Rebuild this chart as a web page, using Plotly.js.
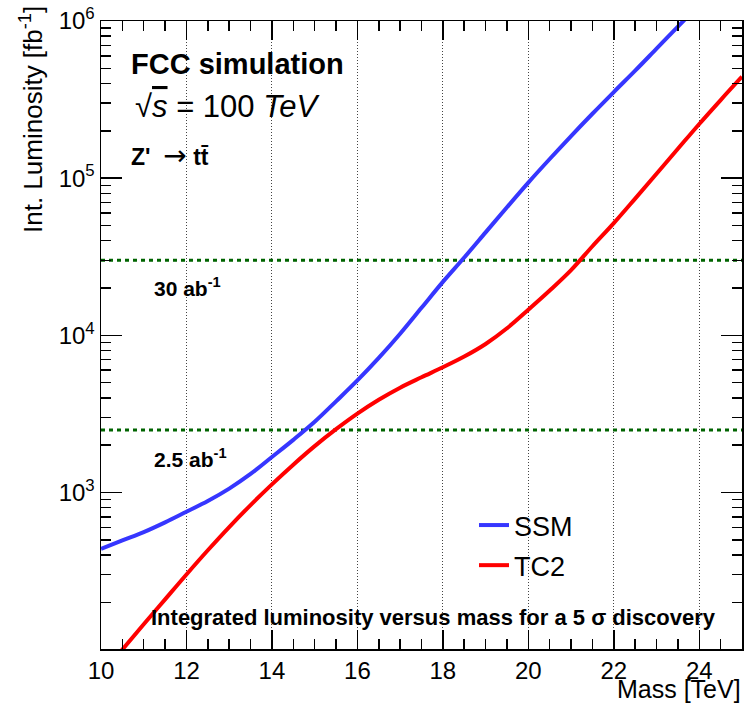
<!DOCTYPE html>
<html>
<head>
<meta charset="utf-8">
<script src="https://cdn.plot.ly/plotly-3.0.1.min.js"></script>
<style>
  html, body { margin: 0; padding: 0; background: #ffffff; }
  #chart { width: 747px; height: 704px; }
</style>
</head>
<body>
<div id="chart"></div>
<script>
// ---- data ----
const massSSM = [10, 10.5, 11, 11.5, 12, 12.5, 13, 13.5, 14, 14.5, 15, 15.5, 16, 16.5, 17, 17.5, 18, 18.5, 19, 19.5, 20, 20.5, 21, 21.5, 22, 22.5, 23, 23.5, 23.7];
const lumiSSM = [438, 496, 560, 646, 755, 883, 1059, 1312, 1683, 2163, 2818, 3802, 5164, 7178, 10230, 14960, 21880, 31260, 45190, 65310, 93760, 132400, 185400, 257000, 353200, 483100, 666800, 920500, 1047000];

const massTC2 = [10.4, 11, 11.5, 12, 12.5, 13, 13.5, 14, 14.5, 15, 15.5, 16, 16.5, 17, 17.5, 18, 18.5, 19, 19.5, 20, 20.5, 21, 21.5, 22, 22.5, 23, 23.5, 24, 24.5, 25];
const lumiTC2 = [93, 145, 209, 301, 429, 603, 832, 1127, 1503, 1972, 2529, 3177, 3890, 4645, 5408, 6266, 7328, 8810, 11090, 14560, 19280, 26000, 36900, 51760, 74130, 106700, 153800, 221300, 314100, 442600];

const seriesNames = ["SSM", "TC2"];
const referenceLumi = [30000, 2500];           // 30 ab^-1 and 2.5 ab^-1 in fb^-1
const referenceLabels = ["30 ab<sup>-1</sup>", "2.5 ab<sup>-1</sup>"];
const massRange = [10, 25];

const xTickVals = [10, 12, 14, 16, 18, 20, 22, 24];
const yTickVals = [1e3, 1e4, 1e5, 1e6];
const yTickText = ["10<sup>3</sup>", "10<sup>4</sup>", "10<sup>5</sup>", "10<sup>6</sup>"];
const yMinorVals = [];
[100, 1000, 10000, 100000].forEach(d => { for (let k = 2; k <= 9; k++) yMinorVals.push(k * d); });

// ---- geometry helpers (pixel -> paper) ----
const L = 101, T = 21, W = 641, H = 628;
const px = x => (x - L) / W;
const py = y => 1 - (y - T) / H;

const FONT = "Liberation Sans, Arial, Helvetica, sans-serif";

const traces = [];
referenceLumi.forEach(v => {
  traces.push({
    x: massRange, y: [v, v], mode: "lines", showlegend: false, hoverinfo: "skip",
    line: { color: "rgb(0,100,0)", width: 3, dash: "4px,4px" }
  });
});
traces.push({
  x: massSSM, y: lumiSSM, name: seriesNames[0], mode: "lines", legendgroup: "a",
  line: { color: "#3636ff", width: 4, shape: "spline", smoothing: 1 }
});
traces.push({
  x: massTC2, y: lumiTC2, name: seriesNames[1], mode: "lines", legendgroup: "b",
  line: { color: "#ff0000", width: 4, shape: "spline", smoothing: 1 }
});

const annotations = [
  { text: "<b>FCC simulation</b>", x: px(129), y: py(64.5), size: 29 },
  { text: "√<span style='text-decoration:overline'><i>s</i></span> = 100 <i>TeV</i>", x: px(133), y: py(107), size: 31 },
  { text: "<b>Z'</b>\u00a0\u00a0<span style='font-family:DejaVu Sans;font-weight:normal;font-size:28px'>→</span>\u00a0<b>tt̄</b>", x: px(129), y: py(155), size: 23 },
  { text: "<b>" + referenceLabels[0] + "</b>", x: px(152), y: py(287.5), size: 21 },
  { text: "<b>" + referenceLabels[1] + "</b>", x: px(152), y: py(457.5), size: 21 },
  { text: "<b>Integrated luminosity versus mass for a 5 σ discovery</b>", x: px(149), y: py(617), size: 22 }
].map(a => ({
  text: a.text, x: a.x, y: a.y, xref: "paper", yref: "paper",
  xanchor: "left", yanchor: "middle", showarrow: false,
  font: { family: FONT, size: a.size, color: "#000" }
}));

annotations.push({
  text: "Int. Luminosity [fb<sup>-1</sup>]", x: px(31), y: py(120), xref: "paper", yref: "paper",
  xanchor: "center", yanchor: "middle", textangle: -90, showarrow: false,
  font: { family: FONT, size: 26, color: "#000" }
});
annotations.push({
  text: "Mass [TeV]", x: px(743), y: py(689), xref: "paper", yref: "paper",
  xanchor: "right", yanchor: "middle", showarrow: false,
  font: { family: FONT, size: 25, color: "#000" }
});

const layout = {
  width: 747, height: 704,
  margin: { l: L, r: 747 - L - W, t: T, b: 704 - T - H, pad: 0 },
  paper_bgcolor: "#ffffff", plot_bgcolor: "#ffffff",
  font: { family: FONT, color: "#000" },
  showlegend: true,
  legend: {
    x: px(474), y: py(501), xanchor: "left", yanchor: "top",
    bgcolor: "rgba(0,0,0,0)", borderwidth: 0,
    font: { family: FONT, size: 27, color: "#000" },
    traceorder: "grouped", tracegroupgap: 2, itemwidth: 30
  },
  xaxis: {
    range: massRange, tickmode: "array", tickvals: xTickVals,
    ticks: "inside", ticklen: 19, tickwidth: 1.5, tickcolor: "#000",
    showline: true, linecolor: "#000", linewidth: 1.5, mirror: "ticks",
    showgrid: true, gridcolor: "#444", gridwidth: 1, griddash: "1px,2px",
    zeroline: false,
    tickfont: { family: FONT, size: 24, color: "#000" },
    minor: { dtick: 0.5, tick0: 10, ticks: "inside", ticklen: 10, tickwidth: 1.5, tickcolor: "#000", showgrid: false }
  },
  yaxis: {
    type: "log", range: [Math.log10(101), 6],
    tickmode: "array", tickvals: yTickVals, ticktext: yTickText,
    ticks: "inside", ticklen: 21, tickwidth: 1.5, tickcolor: "#000",
    showline: true, linecolor: "#000", linewidth: 1.5, mirror: "ticks",
    showgrid: false, zeroline: false,
    tickfont: { family: FONT, size: 24, color: "#000" },
    minor: { tickmode: "array", tickvals: yMinorVals, ticks: "inside", ticklen: 10, tickwidth: 1.5, tickcolor: "#000", showgrid: false }
  },
  annotations: annotations
};

Plotly.newPlot("chart", traces, layout, { displayModeBar: false, staticPlot: true });
</script>
</body>
</html>
